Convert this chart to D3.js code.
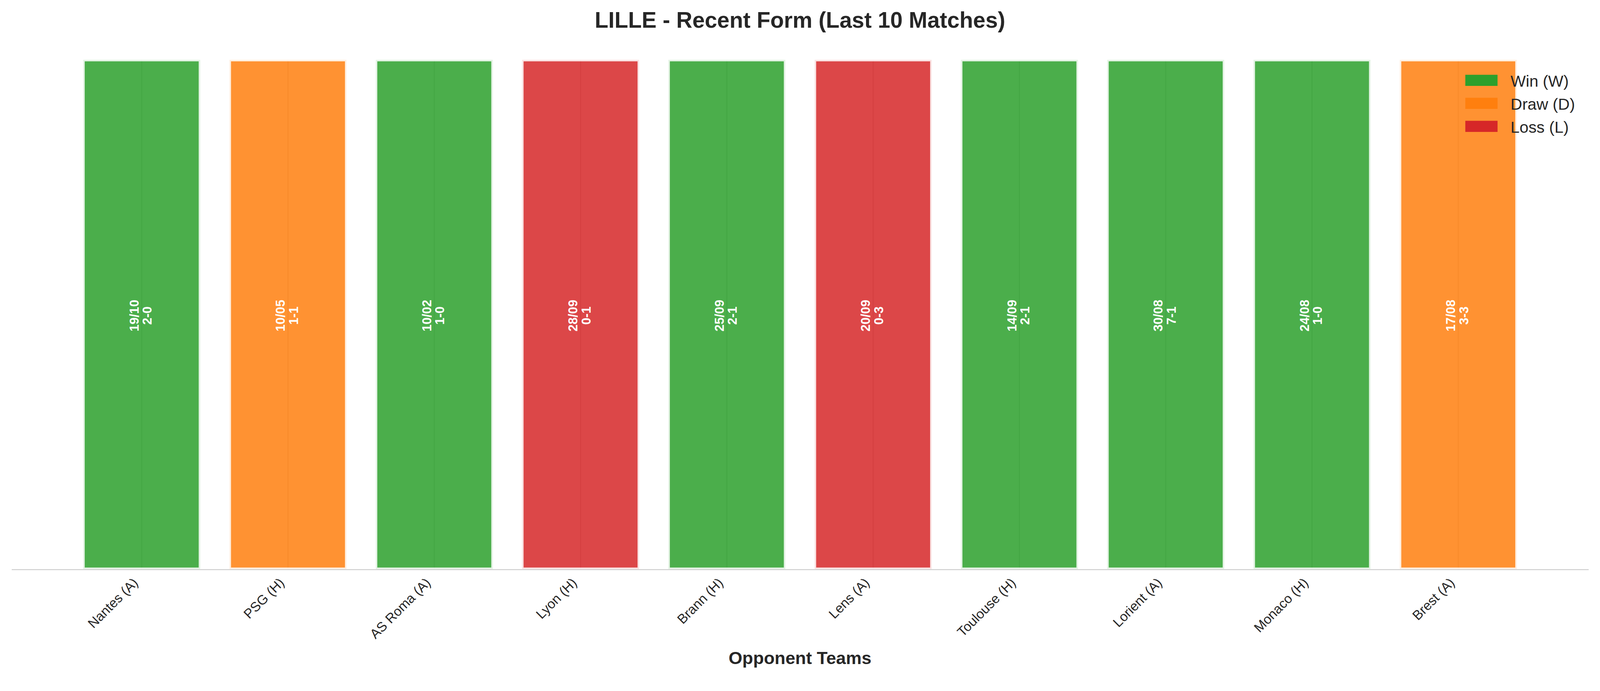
<!DOCTYPE html>
<html>
<head>
<meta charset="utf-8">
<script src="https://cdn.jsdelivr.net/npm/d3@7"></script>
<style>
  html, body { margin: 0; padding: 0; background: #ffffff; overflow: hidden; }
  svg { display: block; width: 100%; height: auto; }
</style>
</head>
<body>
<script>
// ---- Data ----
const opponents = ["Nantes (A)", "PSG (H)", "AS Roma (A)", "Lyon (H)", "Brann (H)", "Lens (A)", "Toulouse (H)", "Lorient (A)", "Monaco (H)", "Brest (A)"];
const results   = ["W", "D", "W", "L", "W", "L", "W", "W", "W", "D"];
const dates     = ["19/10", "10/05", "10/02", "28/09", "25/09", "20/09", "14/09", "30/08", "24/08", "17/08"];
const scores    = ["2-0", "1-1", "1-0", "0-1", "2-1", "0-3", "2-1", "7-1", "1-0", "3-3"];
const barValues = [1, 1, 1, 1, 1, 1, 1, 1, 1, 1];

const resultKeys   = ["W", "D", "L"];
const legendLabels = ["Win (W)", "Draw (D)", "Loss (L)"];
const resultColors = ["#2ca02c", "#ff7f0e", "#d62728"];

const titleText  = "LILLE - Recent Form (Last 10 Matches)";
const xLabelText = "Opponent Teams";

// ---- Layout ----
const W = 4170, H = 1770;
const FONT = "'Liberation Sans', Arial, Helvetica, sans-serif";
const TEXT = "#262626";

const svg = d3.select("body").append("svg")
  .attr("viewBox", `0 0 ${W} ${H}`)
  .attr("preserveAspectRatio", "xMinYMin meet");

svg.append("rect").attr("width", W).attr("height", H).attr("fill", "#ffffff");

const x = d3.scaleLinear().domain([-0.89, 9.89]).range([30, 4140]);
const y = d3.scaleLinear().domain([0, 1]).range([1484, 156]);
const color = d3.scaleOrdinal().domain(resultKeys).range(resultColors);
const barW = 0.8;

const data = opponents.map((o, i) => ({
  i, opp: o, res: results[i], date: dates[i], score: scores[i], v: barValues[i]
}));

// grid lines at tick positions (seen through translucent bars)
svg.append("g").selectAll("line").data(data).join("line")
  .attr("x1", d => x(d.i)).attr("x2", d => x(d.i))
  .attr("y1", y(0)).attr("y2", y(1))
  .attr("stroke", "#cccccc").attr("stroke-width", 2.5);

// bars
svg.append("g").selectAll("rect").data(data).join("rect")
  .attr("x", d => x(d.i - barW / 2))
  .attr("width", d => x(d.i + barW / 2) - x(d.i - barW / 2))
  .attr("y", d => y(d.v))
  .attr("height", d => y(0) - y(d.v))
  .attr("fill", d => color(d.res))
  .attr("fill-opacity", 0.85)
  .attr("stroke", "#ffffff")
  .attr("stroke-opacity", 0.85)
  .attr("stroke-width", 8);

// bottom spine via d3 axis
const xAxis = d3.axisBottom(x)
  .tickValues(data.map(d => d.i))
  .tickFormat(i => opponents[i])
  .tickSize(0)
  .tickSizeOuter(0);

const axG = svg.append("g")
  .attr("transform", `translate(0,${y(0) + 1})`)
  .call(xAxis);

axG.select(".domain").attr("stroke", "#cccccc").attr("stroke-width", 2.5);
axG.selectAll(".tick text")
  .attr("font-family", FONT)
  .attr("font-size", 35)
  .attr("fill", TEXT)
  .attr("text-anchor", "end")
  .attr("dy", null)
  .attr("y", null)
  .attr("transform", d => `translate(-8,${1522 - (y(0) + 1)}) rotate(-45)`);

// labels inside bars: date and score, rotated 90
const lbl = svg.append("g").selectAll("text").data(data).join("text")
  .attr("transform", d => `translate(${x(d.i)},${y(d.v / 2) + 3}) rotate(-90)`)
  .attr("text-anchor", "middle")
  .attr("font-family", FONT)
  .attr("font-weight", "bold")
  .attr("font-size", 33)
  .attr("fill", "#ffffff");
lbl.append("tspan").attr("x", 0).attr("y", -8).text(d => d.date);
lbl.append("tspan").attr("x", 0).attr("y", 26).text(d => d.score);

// title
svg.append("text")
  .attr("x", W / 2).attr("y", 72)
  .attr("text-anchor", "middle")
  .attr("font-family", FONT).attr("font-weight", "bold")
  .attr("font-size", 58).attr("fill", TEXT)
  .text(titleText);

// x label
svg.append("text")
  .attr("x", (x.range()[0] + x.range()[1]) / 2).attr("y", 1732)
  .attr("text-anchor", "middle")
  .attr("font-family", FONT).attr("font-weight", "bold")
  .attr("font-size", 46).attr("fill", TEXT)
  .text(xLabelText);

// legend
const leg = svg.append("g").attr("transform", "translate(3819,195)");
const items = leg.selectAll("g").data(resultKeys).join("g")
  .attr("transform", (d, i) => `translate(0,${i * 60})`);
items.append("rect")
  .attr("width", 84).attr("height", 29)
  .attr("fill", d => color(d));
items.append("text")
  .attr("x", 118).attr("y", 31)
  .attr("font-family", FONT).attr("font-size", 42)
  .attr("fill", TEXT)
  .text((d, i) => legendLabels[i]);
</script>
</body>
</html>
